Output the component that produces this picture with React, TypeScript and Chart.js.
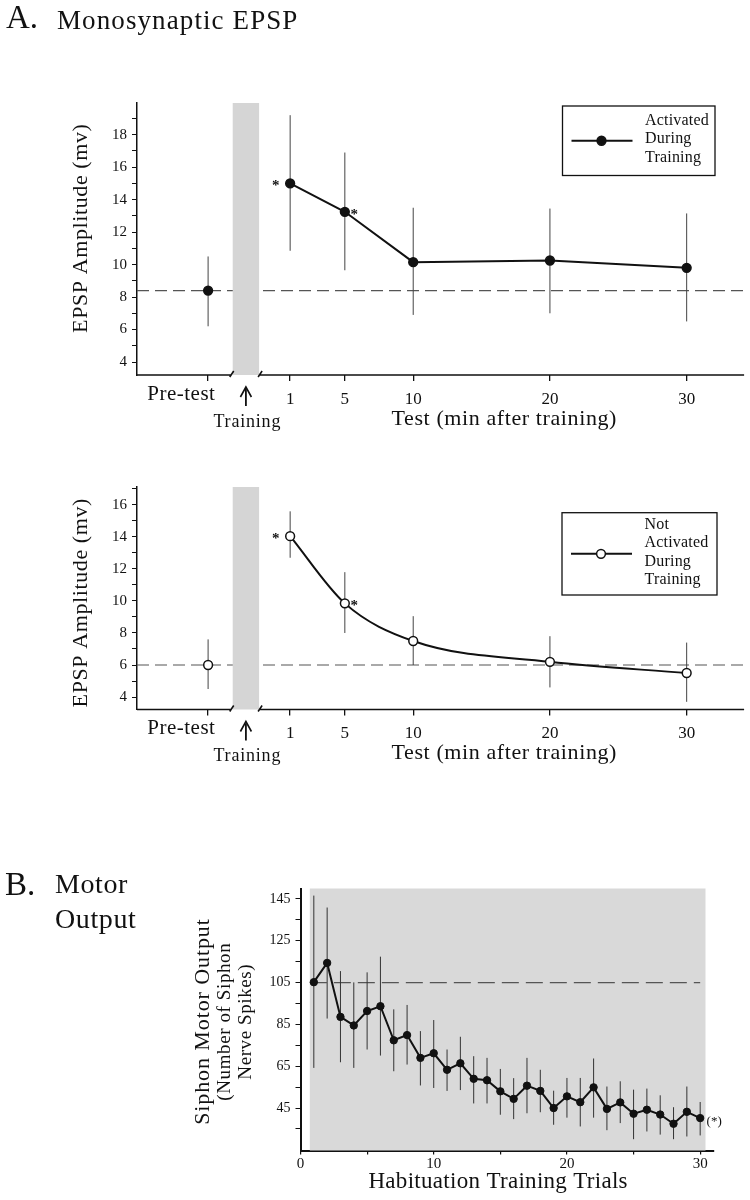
import React, { useEffect, useRef } from 'react';
import { Chart, registerables } from 'chart.js';

Chart.register(...registerables);

const FONT = "'Liberation Serif', 'Times New Roman', serif";

// ---------- Panel A (EPSP) data ----------
const TEST_MINUTES = [1, 5, 10, 20, 30];
const PRETEST_POSITION = -5;
const A_X_TICKS = [PRETEST_POSITION, 1, 5, 10, 20, 30];
const TRAINING_SPAN = [-3.2, -1.27];
const SIGNIFICANCE_SIDE = ['left', 'right', '', '', ''];

const ACTIVATED_PRE = [8.4];
const ACTIVATED_PRE_LOW = [6.2];
const ACTIVATED_PRE_HIGH = [10.5];
const ACTIVATED_MEAN = [15.0, 13.25, 10.15, 10.25, 9.8];
const ACTIVATED_LOW = [10.85, 9.65, 6.9, 7.0, 6.5];
const ACTIVATED_HIGH = [19.2, 16.9, 13.5, 13.45, 13.15];
const ACTIVATED_BASELINE = 8.4;
const ACTIVATED_Y_TICKS = [4, 5, 6, 7, 8, 9, 10, 11, 12, 13, 14, 15, 16, 17, 18, 19];
const ACTIVATED_LEGEND = ['Activated', 'During', 'Training'];

const NOT_ACTIVATED_PRE = [6.0];
const NOT_ACTIVATED_PRE_LOW = [4.5];
const NOT_ACTIVATED_PRE_HIGH = [7.6];
const NOT_ACTIVATED_MEAN = [14.05, 9.85, 7.5, 6.2, 5.5];
const NOT_ACTIVATED_LOW = [12.7, 8.0, 6.0, 4.6, 3.7];
const NOT_ACTIVATED_HIGH = [15.6, 11.8, 9.05, 7.8, 7.4];
const NOT_ACTIVATED_BASELINE = 6.0;
const NOT_ACTIVATED_Y_TICKS = [4, 5, 6, 7, 8, 9, 10, 11, 12, 13, 14, 15, 16, 17];
const NOT_ACTIVATED_LEGEND = ['Not', 'Activated', 'During', 'Training'];

// ---------- Panel B (motor output) data ----------
const TRIALS = [1, 2, 3, 4, 5, 6, 7, 8, 9, 10, 11, 12, 13, 14, 15, 16, 17, 18, 19, 20, 21, 22, 23, 24, 25, 26, 27, 28, 29, 30];
const MOTOR_MEAN = [105.2, 114.4, 88.6, 84.5, 91.4, 93.7, 77.4, 79.9, 69.0, 71.2, 63.3, 66.4, 59.0, 58.3, 53.0, 49.4, 55.7, 53.2, 45.0, 50.6, 47.8, 54.9, 44.6, 47.7, 42.3, 44.2, 41.9, 37.5, 43.2, 40.2];
const MOTOR_HIGH = [146.6, 140.9, 110.5, 105.1, 109.9, 117.4, 92.2, 94.3, 81.8, 87.1, 73.0, 79.1, 69.8, 69.0, 63.7, 59.3, 69.0, 63.3, 53.3, 59.4, 59.4, 68.7, 55.3, 57.8, 53.8, 54.3, 51.1, 45.4, 55.3, 47.9];
const MOTOR_LOW = [64.2, 87.8, 66.9, 64.2, 73.0, 70.1, 62.6, 65.8, 55.8, 54.6, 53.2, 53.6, 47.2, 47.2, 41.8, 39.7, 42.5, 43.0, 37.0, 40.4, 36.2, 40.4, 34.4, 37.8, 30.1, 33.8, 32.3, 30.1, 31.4, 31.9];
const MOTOR_BASELINE = 105;
const B_X_TICKS = [0, 5, 10, 15, 20, 25, 30];
const B_X_LABELS = [0, 10, 20, 30];
const B_Y_TICKS = [35, 45, 55, 65, 75, 85, 95, 105, 115, 125, 135, 145];
const B_Y_LABELS = [45, 65, 85, 105, 125, 145];
const B_SHADE_SPAN = [0.7, 30.4];

function txt(ctx: CanvasRenderingContext2D, s: string, x: number, y: number, font: string, align: CanvasTextAlign = 'left', baseline: CanvasTextBaseline = 'alphabetic', rot = 0, spacing = 0) {
  ctx.save();
  ctx.translate(x, y);
  if (rot) ctx.rotate(rot);
  ctx.font = font;
  ctx.fillStyle = '#111';
  ctx.textBaseline = baseline;
  const c: any = ctx;
  if (spacing && 'letterSpacing' in c) {
    c.letterSpacing = `${spacing}px`;
    const w = ctx.measureText(s).width - spacing;
    ctx.textAlign = 'left';
    const x0 = align === 'center' ? -w / 2 : align === 'right' ? -w : 0;
    ctx.fillText(s, x0, 0);
  } else {
    ctx.textAlign = align;
    ctx.fillText(s, 0, 0);
  }
  ctx.restore();
}

type PanelA = {
  pre: number[]; preLow: number[]; preHigh: number[];
  mean: number[]; low: number[]; high: number[];
  baseline: number; yTicks: number[]; yMin: number; yMax: number;
  filled: boolean; smooth: boolean; legend: string[];
  header: boolean; padTop: number; xHeight: number;
  legendBox: { left: number; top: number; width: number; height: number };
  yTitleOffset: number;
};

function panelAPlugin(p: PanelA) {
  return {
    id: 'panelA',
    beforeDatasetsDraw(chart: any) {
      const { ctx, chartArea: ca, scales } = chart;
      const x = scales.x, y = scales.y;
      ctx.save();
      const yb = y.getPixelForValue(p.baseline);
      ctx.strokeStyle = '#555';
      ctx.lineWidth = 1.2;
      ctx.setLineDash([12, 6]);
      ctx.beginPath();
      ctx.moveTo(ca.left, yb);
      ctx.lineTo(ca.right, yb);
      ctx.stroke();
      ctx.setLineDash([]);
      const bx1 = x.getPixelForValue(TRAINING_SPAN[0]);
      const bx2 = x.getPixelForValue(TRAINING_SPAN[1]);
      ctx.fillStyle = '#d5d5d5';
      ctx.fillRect(bx1, ca.top, bx2 - bx1, ca.bottom - ca.top);
      ctx.strokeStyle = '#444';
      ctx.lineWidth = 1;
      const bar = (xv: number, lo: number, hi: number) => {
        const px = x.getPixelForValue(xv);
        ctx.beginPath();
        ctx.moveTo(px, y.getPixelForValue(lo));
        ctx.lineTo(px, y.getPixelForValue(hi));
        ctx.stroke();
      };
      bar(PRETEST_POSITION, p.preLow[0], p.preHigh[0]);
      TEST_MINUTES.forEach((m, i) => bar(m, p.low[i], p.high[i]));
      ctx.restore();
    },
    afterDraw(chart: any) {
      const { ctx, chartArea: ca, scales } = chart;
      const x = scales.x, y = scales.y;
      ctx.save();
      // broken x axis
      const bx1 = x.getPixelForValue(TRAINING_SPAN[0]);
      const bx2 = x.getPixelForValue(TRAINING_SPAN[1]);
      const ay = ca.bottom;
      ctx.strokeStyle = '#111';
      ctx.lineWidth = 1.6;
      ctx.beginPath();
      ctx.moveTo(ca.left, ay);
      ctx.lineTo(bx1 - 1, ay);
      ctx.moveTo(bx1 - 3, ay + 2);
      ctx.lineTo(bx1 + 1, ay - 4);
      ctx.moveTo(bx2 + 1, ay);
      ctx.lineTo(ca.right, ay);
      ctx.moveTo(bx2 - 1, ay + 2);
      ctx.lineTo(bx2 + 3, ay - 4);
      ctx.stroke();
      // Pre-test label (sits left of its tick)
      txt(ctx, 'Pre-test', x.getPixelForValue(PRETEST_POSITION) - 27, ay + 19, `21px ${FONT}`, 'center', 'middle', 0, 0.5);
      // arrow + Training
      const cx = (bx1 + bx2) / 2;
      ctx.lineWidth = 1.8;
      ctx.lineCap = 'butt';
      ctx.beginPath();
      ctx.moveTo(cx, ay + 31);
      ctx.lineTo(cx, ay + 14);
      ctx.stroke();
      ctx.lineWidth = 1.6;
      ctx.lineJoin = 'miter';
      ctx.beginPath();
      ctx.moveTo(cx - 5.5, ay + 22);
      ctx.lineTo(cx, ay + 12);
      ctx.lineTo(cx + 5.5, ay + 22);
      ctx.stroke();
      txt(ctx, 'Training', cx + 1, ay + 47, `18px ${FONT}`, 'center', 'middle', 0, 0.8);
      txt(ctx, 'Test (min after training)', 504, ay + 44, `22px ${FONT}`, 'center', 'middle', 0, 0.6);
      // y title
      txt(ctx, 'EPSP Amplitude (mv)', 81, ca.top + p.yTitleOffset, `22px ${FONT}`, 'center', 'middle', -Math.PI / 2, 0.6);
      // header
      if (p.header) {
        txt(ctx, 'A.', 6, 28, `33px ${FONT}`);
        txt(ctx, 'Monosynaptic EPSP', 57, 28.5, `27px ${FONT}`, 'left', 'alphabetic', 0, 1.1);
      }
      // asterisks
      TEST_MINUTES.forEach((m, i) => {
        const side = SIGNIFICANCE_SIDE[i];
        if (!side) return;
        const px = x.getPixelForValue(m);
        const py = y.getPixelForValue(p.mean[i]);
        const dx = side === 'left' ? -14.5 : 9.5;
        txt(ctx, '*', px + dx, py + 7, `bold 15px ${FONT}`, 'center', 'alphabetic');
      });
      // legend
      const L = p.legendBox;
      ctx.strokeStyle = '#111';
      ctx.lineWidth = 1.3;
      ctx.strokeRect(L.left, L.top, L.width, L.height);
      const mid = L.top + L.height / 2;
      ctx.lineWidth = 2;
      ctx.beginPath();
      ctx.moveTo(L.left + 9, mid);
      ctx.lineTo(L.left + 70, mid);
      ctx.stroke();
      ctx.beginPath();
      ctx.arc(L.left + 39, mid, 4.4, 0, Math.PI * 2);
      ctx.fillStyle = p.filled ? '#111' : '#fff';
      ctx.fill();
      ctx.lineWidth = 1.5;
      ctx.stroke();
      const lh = 18.3;
      const startY = mid - 1.5 - ((p.legend.length - 1) * lh) / 2;
      p.legend.forEach((s, i) => txt(ctx, s, L.left + 82.5, startY + i * lh, `16px ${FONT}`, 'left', 'middle', 0, 0.2));
      ctx.restore();
    },
  };
}

function makePanelA(p: PanelA): any {
  const pointStyle = {
    pointRadius: 4.4,
    pointBackgroundColor: p.filled ? '#111' : '#fff',
    pointBorderColor: '#111',
    pointBorderWidth: 1.5,
  };
  return {
    type: 'line',
    data: {
      datasets: [
        {
          data: TEST_MINUTES.map((m, i) => ({ x: m, y: p.mean[i] })),
          borderColor: '#111',
          borderWidth: 2,
          cubicInterpolationMode: p.smooth ? 'monotone' : 'default',
          tension: 0,
          ...pointStyle,
        },
        {
          data: [{ x: PRETEST_POSITION, y: p.pre[0] }],
          showLine: false,
          ...pointStyle,
        },
      ],
    },
    options: {
      responsive: false,
      animation: false,
      devicePixelRatio: 1,
      layout: { padding: { top: p.padTop, right: 5, left: 0, bottom: 0 } },
      plugins: { legend: { display: false }, tooltip: { enabled: false }, title: { display: false } },
      scales: {
        x: {
          type: 'linear',
          min: -10.2,
          max: 34.2,
          afterBuildTicks: (s: any) => { s.ticks = A_X_TICKS.map((v) => ({ value: v })); },
          afterFit: (s: any) => { s.height = p.xHeight; },
          grid: { drawOnChartArea: false, drawTicks: true, tickLength: 6, color: '#111', lineWidth: 1.3 },
          border: { display: false },
          ticks: {
            autoSkip: false,
            maxRotation: 0,
            padding: 8,
            color: '#111',
            font: { family: FONT, size: 17 },
            callback: (v: any) => (v === PRETEST_POSITION ? '' : String(v)),
          },
        },
        y: {
          type: 'linear',
          min: p.yMin,
          max: p.yMax,
          afterBuildTicks: (s: any) => { s.ticks = p.yTicks.map((v) => ({ value: v })); },
          afterFit: (s: any) => { s.width = 137; },
          grid: { drawOnChartArea: false, drawTicks: true, tickLength: 5, color: '#111', lineWidth: 1 },
          border: { display: true, color: '#111', width: 1.5 },
          ticks: {
            autoSkip: false,
            padding: 5,
            color: '#111',
            font: { family: FONT, size: 15 },
            callback: (v: any) => (v % 2 === 0 ? String(v) : ''),
          },
        },
      },
    },
    plugins: [panelAPlugin(p)],
  };
}

const panelBPlugin = {
  id: 'panelB',
  beforeDatasetsDraw(chart: any) {
    const { ctx, chartArea: ca, scales } = chart;
    const x = scales.x, y = scales.y;
    ctx.save();
    const sx1 = x.getPixelForValue(B_SHADE_SPAN[0]);
    const sx2 = x.getPixelForValue(B_SHADE_SPAN[1]);
    ctx.fillStyle = '#d9d9d9';
    ctx.fillRect(sx1, ca.top, sx2 - sx1, ca.bottom - ca.top);
    const yb = y.getPixelForValue(MOTOR_BASELINE);
    ctx.strokeStyle = '#555';
    ctx.lineWidth = 1.2;
    ctx.setLineDash([17, 7]);
    ctx.beginPath();
    ctx.moveTo(sx1, yb);
    ctx.lineTo(x.getPixelForValue(30), yb);
    ctx.stroke();
    ctx.setLineDash([]);
    ctx.strokeStyle = '#333';
    ctx.lineWidth = 1;
    TRIALS.forEach((t, i) => {
      const px = x.getPixelForValue(t);
      ctx.beginPath();
      ctx.moveTo(px, y.getPixelForValue(MOTOR_LOW[i]));
      ctx.lineTo(px, y.getPixelForValue(MOTOR_HIGH[i]));
      ctx.stroke();
    });
    ctx.restore();
  },
  afterDraw(chart: any) {
    const { ctx, chartArea: ca, scales } = chart;
    const x = scales.x, y = scales.y;
    txt(ctx, 'B.', 5, 115, `33px ${FONT}`);
    txt(ctx, 'Motor', 55, 113, `28px ${FONT}`, 'left', 'alphabetic', 0, 0.6);
    txt(ctx, 'Output', 55, 148, `28px ${FONT}`, 'left', 'alphabetic', 0, 0.6);
    const cy = 242;
    txt(ctx, 'Siphon Motor Output', 203, cy, `22px ${FONT}`, 'center', 'middle', -Math.PI / 2, 0.9);
    txt(ctx, '(Number of Siphon', 225, cy, `19px ${FONT}`, 'center', 'middle', -Math.PI / 2, 0.6);
    txt(ctx, 'Nerve Spikes)', 246, cy, `19px ${FONT}`, 'center', 'middle', -Math.PI / 2, 0.6);
    txt(ctx, 'Habituation Training Trials', 498, ca.bottom + 31, `23px ${FONT}`, 'center', 'middle', 0, 0.3);
    const last = TRIALS.length - 1;
    txt(ctx, '(*)', x.getPixelForValue(TRIALS[last]) + 14, y.getPixelForValue(MOTOR_MEAN[last]) + 3.5, `13px ${FONT}`, 'center', 'middle');
  },
};

const configB: any = {
  type: 'line',
  data: {
    datasets: [
      {
        data: TRIALS.map((t, i) => ({ x: t, y: MOTOR_MEAN[i] })),
        borderColor: '#111',
        borderWidth: 2,
        tension: 0,
        pointRadius: 3.7,
        pointBackgroundColor: '#111',
        pointBorderColor: '#111',
        pointBorderWidth: 1,
      },
    ],
  },
  options: {
    responsive: false,
    animation: false,
    devicePixelRatio: 1,
    layout: { padding: { top: 108.5, right: 36.5, left: 0, bottom: 0 } },
    plugins: { legend: { display: false }, tooltip: { enabled: false }, title: { display: false } },
    scales: {
      x: {
        type: 'linear',
        min: 0,
        max: 31,
        afterBuildTicks: (s: any) => { s.ticks = B_X_TICKS.map((v) => ({ value: v })); },
        afterFit: (s: any) => { s.height = 49.5; },
        grid: { drawOnChartArea: false, drawTicks: true, tickLength: 4, color: '#111', lineWidth: 1.2 },
        border: { display: true, color: '#111', width: 2 },
        ticks: {
          autoSkip: false,
          maxRotation: 0,
          padding: 1,
          color: '#111',
          font: { family: FONT, size: 15 },
          callback: (v: any) => (B_X_LABELS.includes(v) ? String(v) : ''),
        },
      },
      y: {
        type: 'linear',
        min: 24.7,
        max: 150,
        afterBuildTicks: (s: any) => { s.ticks = B_Y_TICKS.map((v) => ({ value: v })); },
        afterFit: (s: any) => { s.width = 300.5; },
        grid: { drawOnChartArea: false, drawTicks: true, tickLength: 5, color: '#111', lineWidth: 1 },
        border: { display: true, color: '#111', width: 2 },
        ticks: {
          autoSkip: false,
          padding: 5,
          color: '#111',
          font: { family: FONT, size: 14 },
          callback: (v: any) => (B_Y_LABELS.includes(v) ? String(v) : ''),
        },
      },
    },
  },
  plugins: [panelBPlugin],
};

const panelActivated: PanelA = {
  pre: ACTIVATED_PRE, preLow: ACTIVATED_PRE_LOW, preHigh: ACTIVATED_PRE_HIGH,
  mean: ACTIVATED_MEAN, low: ACTIVATED_LOW, high: ACTIVATED_HIGH,
  baseline: ACTIVATED_BASELINE, yTicks: ACTIVATED_Y_TICKS, yMin: 3.2, yMax: 19.95,
  filled: true, smooth: false, legend: ACTIVATED_LEGEND,
  header: true, padTop: 103, xHeight: 65,
  legendBox: { left: 562.5, top: 106, width: 152.5, height: 69.5 },
  yTitleOffset: 125.5,
};

const panelNotActivated: PanelA = {
  pre: NOT_ACTIVATED_PRE, preLow: NOT_ACTIVATED_PRE_LOW, preHigh: NOT_ACTIVATED_PRE_HIGH,
  mean: NOT_ACTIVATED_MEAN, low: NOT_ACTIVATED_LOW, high: NOT_ACTIVATED_HIGH,
  baseline: NOT_ACTIVATED_BASELINE, yTicks: NOT_ACTIVATED_Y_TICKS, yMin: 3.22, yMax: 17.12,
  filled: false, smooth: true, legend: NOT_ACTIVATED_LEGEND,
  header: false, padTop: 47, xHeight: 70.5,
  legendBox: { left: 562, top: 72.7, width: 155, height: 82.3 },
  yTitleOffset: 116,
};

export default function App() {
  const r1 = useRef<HTMLCanvasElement>(null);
  const r2 = useRef<HTMLCanvasElement>(null);
  const r3 = useRef<HTMLCanvasElement>(null);
  useEffect(() => {
    const charts = [
      new Chart(r1.current as HTMLCanvasElement, makePanelA(panelActivated)),
      new Chart(r2.current as HTMLCanvasElement, makePanelA(panelNotActivated)),
      new Chart(r3.current as HTMLCanvasElement, configB),
    ];
    return () => charts.forEach((c) => c.destroy());
  }, []);
  return (
    <div style={{ position: 'absolute', left: 0, top: 0, width: 750, height: 1200, background: '#fff' }}>
      <canvas ref={r1} width={750} height={440} style={{ position: 'absolute', left: 0, top: 0 }} />
      <canvas ref={r2} width={750} height={340} style={{ position: 'absolute', left: 0, top: 440 }} />
      <canvas ref={r3} width={750} height={420} style={{ position: 'absolute', left: 0, top: 780 }} />
    </div>
  );
}
